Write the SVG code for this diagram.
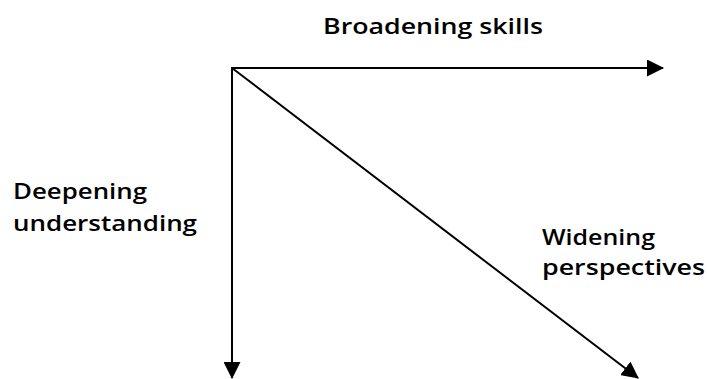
<svg xmlns="http://www.w3.org/2000/svg" width="707" height="379" viewBox="0 0 707 379">
<style>
.t{font-family:"Open Sans","Liberation Sans",sans-serif;font-size:22px;font-weight:600;fill:#000}
.c{stroke:#000;stroke-width:2;fill:none}
</style>
<defs>
<marker id="ah" markerUnits="userSpaceOnUse" markerWidth="17" markerHeight="17" refX="16" refY="8.5" orient="auto" viewBox="0 0 17 17">
<path d="M0,0 L17,8.5 L0,17 Z" fill="#000"/>
</marker>
</defs>
<rect width="707" height="379" fill="#fff"/>
<g id="connectors">
<line class="c" x1="232" y1="68" x2="663" y2="68" marker-end="url(#ah)"/>
<line class="c" x1="232" y1="67" x2="232" y2="378" marker-end="url(#ah)"/>
<line class="c" x1="232" y1="68" x2="638" y2="378" marker-end="url(#ah)"/>
</g>
<g id="broadening"><text class="t" x="323" y="34" textLength="220" lengthAdjust="spacingAndGlyphs">Broadening skills</text></g>
<g id="deepening"><text class="t" x="13" y="199" textLength="134" lengthAdjust="spacingAndGlyphs">Deepening</text><text class="t" x="13" y="231" textLength="184" lengthAdjust="spacingAndGlyphs">understanding</text></g>
<g id="widening"><text class="t" x="542" y="245" textLength="113" lengthAdjust="spacingAndGlyphs">Widening</text><text class="t" x="542" y="275" textLength="163" lengthAdjust="spacingAndGlyphs">perspectives</text></g>
</svg>
